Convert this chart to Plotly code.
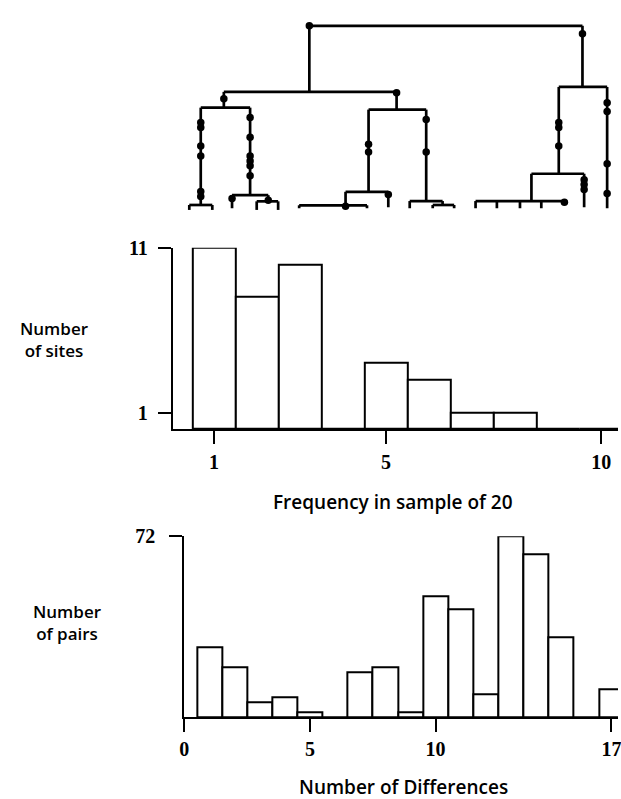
import plotly.graph_objects as go

# ---------------- data ----------------
# Site-frequency histogram (middle panel)
freq_bins = list(range(1, 11))
freq_sites = [11, 8, 10, 0, 4, 3, 1, 1, 0, 0]
freq_ticks = [1, 5, 10]
site_ticks = [1, 11]

# Pairwise-difference histogram (bottom panel)
diff_bins = list(range(1, 18))
diff_pairs = [28, 20, 6, 8, 2, 0, 18, 20, 2, 48, 43, 9, 72, 65, 32, 0, 11]
diff_ticks = [0, 5, 10, 17]
pair_ticks = [72]

# Genealogy (top panel): node -> parent, horizontal position, depth
tree_parent = {
    "L": "R", "Rt": "R",
    "LL": "L", "LR": "L",
    "LLL": "LL", "LLR": "LL",
    "a1": "LLL", "a2": "LLL",
    "b1": "LLR", "LLRR": "LLR", "b2": "LLRR", "b3": "LLRR",
    "LRL": "LR", "LRR": "LR",
    "LRLL": "LRL", "c3": "LRL", "c1": "LRLL", "c2": "LRLL",
    "d1": "LRR", "LRRR": "LRR", "d2": "LRRR", "d3": "LRRR",
    "RtL": "Rt", "f1": "Rt",
    "RtLL": "RtL", "e6": "RtL",
    "e1": "RtLL", "e2": "RtLL", "e3": "RtLL", "e4": "RtLL", "e5": "RtLL",
}
tree_x = {
    "R": 446, "L": 308.3, "Rt": 585,
    "LL": 221.7, "LR": 396.7,
    "LLL": 198.3, "LLR": 248.3,
    "a1": 186.7, "a2": 210,
    "b1": 230, "LLRR": 266.7, "b2": 255, "b3": 276.7,
    "LRL": 368.3, "LRR": 426.7,
    "LRLL": 345, "c3": 388.3, "c1": 298, "c2": 366.7,
    "d1": 410, "LRRR": 443.3, "d2": 433.3, "d3": 455,
    "RtL": 561, "f1": 610,
    "RtLL": 533.3, "e6": 586.7,
    "e1": 476.7, "e2": 498.3, "e3": 521.7, "e4": 543.3, "e5": 566.7,
}
tree_depth = {
    "R": 15, "L": 82, "Rt": 77,
    "LL": 98, "LR": 100,
    "LLL": 196.7, "LLR": 186.7,
    "a1": 201.7, "a2": 201.7,
    "b1": 200, "LLRR": 193, "b2": 201.7, "b3": 201.7,
    "LRL": 183.3, "LRR": 192.7,
    "LRLL": 197, "c3": 199, "c1": 200, "c2": 200,
    "d1": 200, "LRRR": 196.7, "d2": 200, "d3": 200,
    "RtL": 165, "f1": 200,
    "RtLL": 192.7, "e6": 199,
    "e1": 200, "e2": 200, "e3": 200, "e4": 200, "e5": 194,
}
# Mutations: (branch, depth)
mutations = [
    ("L", 15), ("Rt", 23), ("LR", 83), ("LL", 89),
    ("LLL", 113), ("LLL", 118), ("LLL", 137), ("LLL", 147), ("LLL", 183), ("LLL", 188),
    ("LLR", 108), ("LLR", 128), ("LLR", 147), ("LLR", 152), ("LLR", 157), ("LLR", 167),
    ("b1", 190), ("LLRR", 192),
    ("LRL", 135), ("LRL", 143), ("c3", 186), ("LRLL", 198),
    ("LRR", 110), ("LRR", 143),
    ("RtL", 113), ("RtL", 118), ("RtL", 137),
    ("f1", 93), ("f1", 102), ("f1", 155), ("f1", 185),
    ("e6", 171), ("e6", 176), ("e6", 181),
    ("e5", 194),
]

# ---------------- figure ----------------
W, H = 621, 799


def fx(px):
    return px / W


def fy(py):
    return 1 - py / H


fig = go.Figure()

# tree lines
lx, ly = [], []
children = {}
for n, p in tree_parent.items():
    children.setdefault(p, []).append(n)
    lx += [tree_x[n], tree_x[n], None]
    ly += [tree_depth[p], tree_depth[n], None]
for p, ch in children.items():
    xs = [tree_x[c] for c in ch]
    lx += [min(xs), max(xs), None]
    ly += [tree_depth[p], tree_depth[p], None]
fig.add_trace(go.Scatter(x=lx, y=ly, mode="lines",
                         line=dict(color="black", width=2.7),
                         xaxis="x3", yaxis="y3", hoverinfo="skip"))
fig.add_trace(go.Scatter(x=[tree_x[b] for b, d in mutations],
                         y=[d for b, d in mutations], mode="markers",
                         marker=dict(color="black", size=7.5),
                         xaxis="x3", yaxis="y3"))

bar_style = dict(marker=dict(color="white", line=dict(color="black", width=2)),
                 width=1)
fig.add_trace(go.Bar(x=freq_bins, y=freq_sites, xaxis="x", yaxis="y", **bar_style))
fig.add_trace(go.Bar(x=diff_bins, y=diff_pairs, xaxis="x2", yaxis="y2", **bar_style))

tickfont = dict(family="Liberation Serif", size=20, color="black", weight="bold")
axis_common = dict(showline=True, linecolor="black", linewidth=2,
                   ticks="outside", ticklen=13, tickwidth=2, tickcolor="black",
                   showgrid=False, zeroline=False, tickfont=tickfont)

fig.update_layout(
    width=W, height=H,
    margin=dict(l=0, r=0, t=0, b=0),
    paper_bgcolor="white", plot_bgcolor="white",
    showlegend=False, bargap=0,
    xaxis=dict(domain=[fx(170), 1], range=[0.043, 10.39], anchor="y",
               tickvals=freq_ticks, ticklabelstandoff=1,
               ticklabeloverflow="allow", **axis_common),
    yaxis=dict(domain=[fy(424), fy(240)], range=[0, 11], anchor="x",
               tickvals=site_ticks, ticklabelstandoff=6, **axis_common),
    xaxis2=dict(domain=[fx(181.7), 1], range=[0, 17.26], anchor="y2",
                tickvals=diff_ticks, ticklabelstandoff=0,
                ticklabeloverflow="allow", **axis_common),
    yaxis2=dict(domain=[fy(716), fy(532.5)], range=[0, 72], anchor="x2",
                tickvals=pair_ticks, ticklabelstandoff=10, **axis_common),
    xaxis3=dict(domain=[0, 1], range=[0, W], visible=False, anchor="y3"),
    yaxis3=dict(domain=[fy(210), 1], range=[210, 0], visible=False, anchor="x3"),
)

ytitle_font = dict(family="Open Sans", size=17, color="black", weight=600)
xtitle_font = dict(family="Open Sans", size=19, color="black", weight=600)
for text, x, y, f in [
    ("Number<br>of sites", 50, 333, ytitle_font),
    ("Number<br>of pairs", 63, 620, ytitle_font),
    ("Frequency in sample of 20", 393, 498, xtitle_font),
    ("Number of Differences", 404, 787, xtitle_font),
]:
    fig.add_annotation(text=text, x=fx(x), y=fy(y), xref="paper", yref="paper",
                       showarrow=False, font=f, align="center",
                       xanchor="center", yanchor="middle")

fig.write_html("out.html",
               config={"displayModeBar": False},
               post_script="document.body.style.margin='0';")
